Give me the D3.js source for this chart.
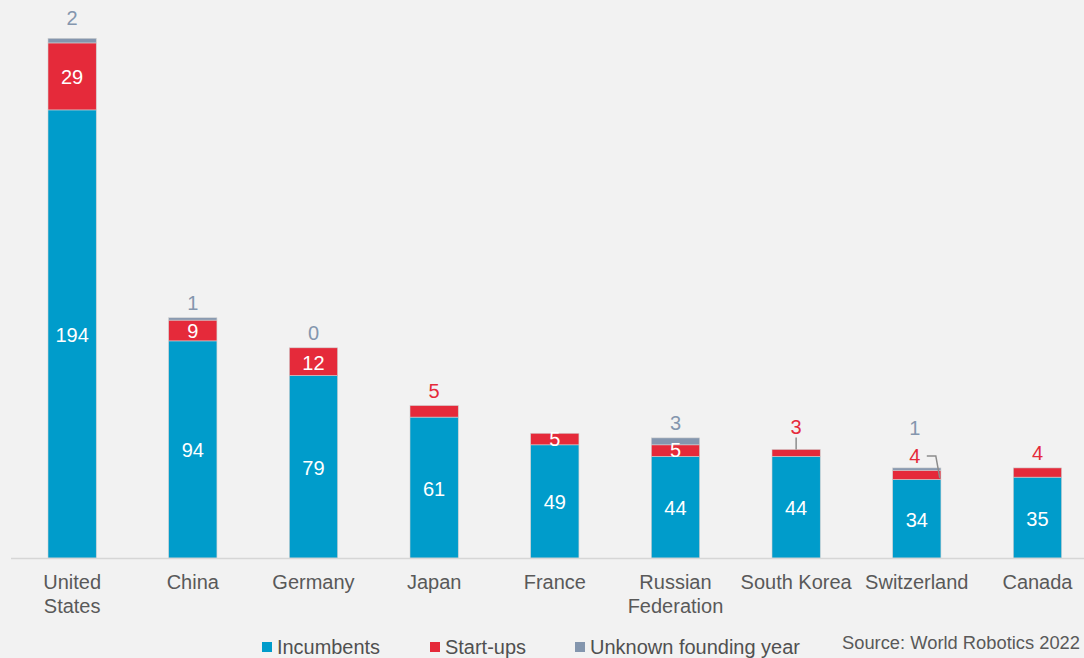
<!DOCTYPE html>
<html><head><meta charset="utf-8">
<script src="https://cdn.jsdelivr.net/npm/d3@7"></script>
<style>
html,body{margin:0;padding:0;background:#f2f2f2;}
svg{display:block;font-family:"Liberation Sans",Arial,sans-serif;}
</style></head>
<body>
<svg id="chart" width="1084" height="658"></svg>
<script>
const categories = ["United States","China","Germany","Japan","France","Russian Federation","South Korea","Switzerland","Canada"];
const incumbents = [194,94,79,61,49,44,44,34,35];
const startups   = [29,9,12,5,5,5,3,4,4];
const unknown    = [2,1,0,0,0,3,0,1,0];
const unknownShown = [true,true,true,false,false,true,false,true,false];
// start-up label placement: "in" inside segment, "above" above bar, "leader" above with leader line
const startupPlacement = ["in","in","in","above","in","in","leader","leader2","above"];
const seriesNames = ["Incumbents","Start-ups","Unknown founding year"];
const colors = ["#009ccb","#e52a3a","#8496ae"];
const source = "Source: World Robotics 2022";

const svg = d3.select("#chart");
const baseY = 558, topY = 38.3;
const FS = 20;

const x = d3.scaleBand().domain(categories).range([11.8, 1097.8]).paddingInner(0.6).paddingOuter(0.3);
const y = d3.scaleLinear().domain([0, 225]).range([baseY, topY]);

const data = categories.map((c,i)=>({c, i, vals:[incumbents[i], startups[i], unknown[i]]}));
const stack = d3.stack().keys([0,1,2]).value((d,k)=>d.vals[k]);
const series = stack(data);

// bars
svg.append("g").selectAll("g").data(series).join("g")
  .attr("fill",(s,k)=>colors[k])
  .selectAll("rect").data(s=>s.filter(d=>d[1]-d[0]>0)).join("rect")
  .attr("x",d=>x(d.data.c))
  .attr("width",x.bandwidth())
  .attr("y",d=>y(d[1]))
  .attr("height",d=>y(d[0])-y(d[1]))
  .attr("stroke","#d0d0d0").attr("stroke-width",0.6);

// axis
const axisG = svg.append("g").attr("transform",`translate(0,${baseY})`)
  .call(d3.axisBottom(x).tickSize(0).tickPadding(0));
axisG.select(".domain").attr("stroke","#d6d6d6").attr("stroke-width",1.5)
  .attr("d","M11,0.5H1084");
axisG.selectAll(".tick text").remove();
axisG.selectAll(".tick").each(function(c){
  const t = d3.select(this).append("text").attr("fill","#595959").attr("font-size",FS)
    .attr("text-anchor","middle").attr("y",31);
  const words = c === "United States" ? ["United","States"] : c === "Russian Federation" ? ["Russian","Federation"] : [c];
  words.forEach((w,j)=>t.append("tspan").attr("x",0).attr("dy",j===0?0:24).text(w));
});

const cx = c => x(c) + x.bandwidth()/2;
const lab = svg.append("g").attr("font-size",FS).attr("text-anchor","middle");

// incumbents labels
data.forEach(d=>{
  const ym = (y(0)+y(d.vals[0]))/2;
  lab.append("text").attr("x",cx(d.c)).attr("y",ym+1).attr("dy","0.35em").attr("fill","#fff").text(d.vals[0]);
});

// start-up labels
data.forEach(d=>{
  const i = d.i, p = startupPlacement[i];
  const y0 = y(d.vals[0]), y1 = y(d.vals[0]+d.vals[1]);
  const top = y(d.vals[0]+d.vals[1]+d.vals[2]);
  if (p==="in") {
    let ym = (y0+y1)/2;
    if (y0-y1 < 16) ym -= 1.5;
    lab.append("text").attr("x",cx(d.c)).attr("y",ym+1).attr("dy","0.35em").attr("fill","#fff").text(d.vals[1]);
  } else if (p==="above") {
    lab.append("text").attr("x",cx(d.c)).attr("y",top-15).attr("dy","0.35em").attr("fill",colors[1]).text(d.vals[1]);
  } else if (p==="leader") {
    lab.append("text").attr("x",cx(d.c)).attr("y",top-22).attr("dy","0.35em").attr("fill",colors[1]).text(d.vals[1]);
    svg.append("line").attr("x1",cx(d.c)).attr("x2",cx(d.c)).attr("y1",top-12).attr("y2",top)
      .attr("stroke","#8c8c8c").attr("stroke-width",1.5);
  } else if (p==="leader2") {
    const lx = cx(d.c)-2, ly = top-12;
    lab.append("text").attr("x",lx).attr("y",ly).attr("dy","0.35em").attr("fill",colors[1]).text(d.vals[1]);
    svg.append("path").attr("fill","none").attr("stroke","#8c8c8c").attr("stroke-width",1.5)
      .attr("d",`M${lx+12},${ly}H${lx+21}L${lx+25},${y1+8}`);
  }
});

// unknown labels
data.forEach(d=>{
  if (!unknownShown[d.i]) return;
  const top = y(d.vals[0]+d.vals[1]+d.vals[2]);
  const off = startupPlacement[d.i]==="leader2" ? 40 : (d.i===0 ? 20 : 15);
  lab.append("text").attr("x",cx(d.c)-(d.i===7?2:0)).attr("y",top-off).attr("dy","0.35em").attr("fill",colors[2]).text(d.vals[2]);
});

// legend
const legX = [262, 430, 575];
const legW = [103, 81, 210];
const leg = svg.append("g");
seriesNames.forEach((n,k)=>{
  leg.append("rect").attr("x",legX[k]).attr("y",642).attr("width",10).attr("height",10).attr("fill",colors[k]);
  leg.append("text").attr("x",legX[k]+15).attr("y",654).attr("font-size",FS).attr("fill","#505050")
    .attr("textLength",legW[k]).attr("lengthAdjust","spacingAndGlyphs").text(n);
});
svg.append("text").attr("x",842).attr("y",649).attr("font-size",18).attr("fill","#595959")
  .attr("textLength",238).attr("lengthAdjust","spacingAndGlyphs").text(source);
</script>
</body></html>
